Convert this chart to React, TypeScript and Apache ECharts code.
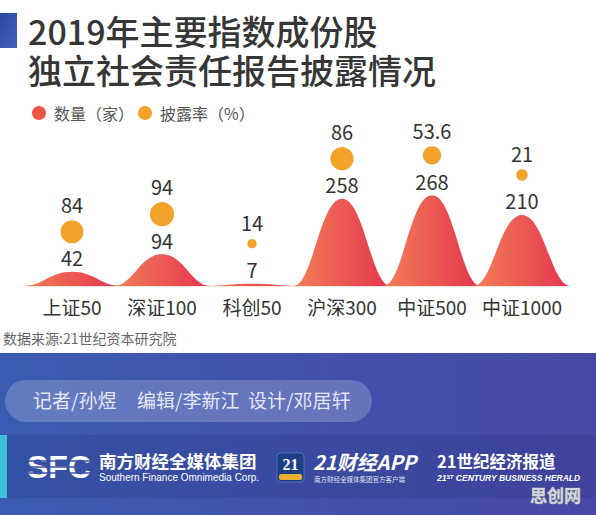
import React, { useEffect, useRef } from 'react';
import * as echarts from 'echarts';

const categories = ['上证50', '深证100', '科创50', '沪深300', '中证500', '中证1000'];
const counts = [42, 94, 7, 258, 268, 210];
const rates = [84, 94, 14, 86, 53.6, 21];
const seriesNames = ['数量（家）', '披露率（%）'];
const titleLines = ['2019年主要指数成份股', '独立社会责任报告披露情况'];
const sourceText = '数据来源:21世纪资本研究院';
const credits = ['记者/孙煜', '编辑/李新江', '设计/邓居轩'];

const FONT = '"Noto Sans CJK SC", "Noto Sans", sans-serif';

export default function App() {
  const ref = useRef<HTMLDivElement>(null);

  useEffect(() => {
    if (!ref.current) return;
    const chart = echarts.init(ref.current, null, { renderer: 'svg' });

    const mountainFill = () =>
      new echarts.graphic.LinearGradient(0, 0, 1, 0, [
        { offset: 0, color: '#f27f57' },
        { offset: 1, color: '#e5344f' },
      ]);

    const option: any = {
      animation: false,
      backgroundColor: '#ffffff',
      textStyle: { fontFamily: FONT },
      legend: {
        left: 27,
        top: 100,
        icon: 'circle',
        itemWidth: 14,
        itemHeight: 14,
        itemGap: 4,
        selectedMode: false,
        textStyle: { fontSize: 16, color: '#555', padding: [0, 0, 0, 3], fontFamily: FONT },
        data: seriesNames,
      },
      grid: { left: 27, right: 29, top: 110, bottom: 229, containLabel: false },
      xAxis: {
        type: 'category',
        data: categories,
        boundaryGap: true,
        axisTick: { show: false },
        axisLine: { show: true, lineStyle: { color: '#f6e4dc', width: 2 } },
        axisLabel: { interval: 0, fontSize: 19, color: '#333', margin: 11, fontFamily: FONT },
        splitLine: { show: false },
      },
      yAxis: { type: 'value', min: 0, max: 520, show: false },
      series: [
        {
          name: seriesNames[0],
          type: 'custom',
          itemStyle: { color: '#ee5545' },
          encode: { x: 0, y: 1 },
          data: counts.map((v, i) => [i, v]),
          renderItem: (params: any, api: any) => {
            const i = api.value(0);
            const v = api.value(1);
            const peak = api.coord([i, v]);
            const base = api.coord([i, 0]);
            const band = api.size([1, 0])[0];
            const h = band * 0.54;
            const height = Math.max(base[1] - peak[1], 1);
            return {
              type: 'group',
              children: [
                {
                  type: 'path',
                  shape: {
                    pathData: 'M0 100 C20 100 27 0 50 0 C73 0 80 100 100 100 Z',
                    x: peak[0] - h,
                    y: peak[1],
                    width: 2 * h,
                    height: height,
                    layout: 'cover',
                  },
                  style: { fill: mountainFill() },
                },
                {
                  type: 'text',
                  x: peak[0],
                  y: peak[1] - 14,
                  style: {
                    text: String(v),
                    fontSize: 20,
                    fill: '#333',
                    align: 'center',
                    verticalAlign: 'middle',
                    fontFamily: FONT,
                  },
                },
              ],
            };
          },
        },
        {
          name: seriesNames[1],
          type: 'custom',
          itemStyle: { color: '#f3a22b' },
          encode: { x: 0, y: 1 },
          data: counts.map((v, i) => [i, v, rates[i]]),
          renderItem: (params: any, api: any) => {
            const i = api.value(0);
            const v = api.value(1);
            const rate = api.value(2);
            const peak = api.coord([i, v]);
            const r = 1.25 * Math.sqrt(rate);
            const cy = peak[1] - 14 - 26;
            return {
              type: 'group',
              children: [
                {
                  type: 'circle',
                  shape: { cx: peak[0], cy: cy, r: r },
                  style: { fill: '#f3a22b' },
                },
                {
                  type: 'text',
                  x: peak[0],
                  y: cy - r - 16,
                  style: {
                    text: String(rate),
                    fontSize: 20,
                    fill: '#333',
                    align: 'center',
                    verticalAlign: 'middle',
                    fontFamily: FONT,
                  },
                },
              ],
            };
          },
        },
      ],
      graphic: [
        {
          type: 'rect',
          shape: { x: 0, y: 13, width: 17, height: 35 },
          style: {
            fill: new echarts.graphic.LinearGradient(0, 0, 1, 1, [
              { offset: 0, color: '#2b47a0' },
              { offset: 1, color: '#4262b8' },
            ]),
          },
        },
        {
          type: 'text',
          x: 28,
          y: 30,
          style: {
            text: titleLines[0],
            fontSize: 34,
            fontWeight: 500,
            fill: '#363636',
            verticalAlign: 'middle',
            fontFamily: FONT,
          },
        },
        {
          type: 'text',
          x: 28,
          y: 69,
          style: {
            text: titleLines[1],
            fontSize: 34,
            fontWeight: 500,
            fill: '#363636',
            verticalAlign: 'middle',
            fontFamily: FONT,
          },
        },
        {
          type: 'text',
          x: 3,
          y: 338,
          style: { text: sourceText, fontSize: 14, fill: '#666', verticalAlign: 'middle', fontFamily: FONT },
        },
        // bottom banner
        {
          type: 'rect',
          shape: { x: 0, y: 353, width: 596, height: 162 },
          style: {
            fill: new echarts.graphic.LinearGradient(0, 0, 1, 0, [
              { offset: 0, color: '#3a5bb1' },
              { offset: 1, color: '#4848a6' },
            ]),
          },
        },
        {
          type: 'rect',
          shape: { x: 5, y: 380, width: 367, height: 42, r: 21 },
          style: { fill: 'rgba(255,255,255,0.2)' },
        },
        {
          type: 'text',
          x: 33,
          y: 399,
          style: { text: credits[0], fontSize: 19, fill: '#e3e7f7', verticalAlign: 'middle', fontFamily: FONT },
        },
        {
          type: 'text',
          x: 137,
          y: 399,
          style: { text: credits[1], fontSize: 19, fill: '#e3e7f7', verticalAlign: 'middle', fontFamily: FONT },
        },
        {
          type: 'text',
          x: 248,
          y: 399,
          style: { text: credits[2], fontSize: 19, fill: '#e3e7f7', verticalAlign: 'middle', fontFamily: FONT },
        },
        {
          type: 'rect',
          shape: { x: 0, y: 435, width: 596, height: 63 },
          style: { fill: 'rgba(25,35,105,0.16)' },
        },
        {
          type: 'rect',
          shape: { x: 0, y: 435, width: 7, height: 63 },
          style: { fill: '#3fc0d6' },
        },
        {
          type: 'text',
          x: 27,
          y: 467,
          style: {
            text: 'SFC',
            fontSize: 32,
            fontWeight: 'bold',
            fill: '#ffffff',
            verticalAlign: 'middle',
            fontFamily: '"Liberation Sans", Arial, sans-serif',
          },
        },
        {
          type: 'line',
          shape: { x1: 26, y1: 461, x2: 94, y2: 461 },
          style: { stroke: '#3a4ea4', lineWidth: 1.4 },
        },
        {
          type: 'line',
          shape: { x1: 26, y1: 467, x2: 94, y2: 467 },
          style: { stroke: '#3a4ea4', lineWidth: 1.4 },
        },
        {
          type: 'line',
          shape: { x1: 26, y1: 473, x2: 94, y2: 473 },
          style: { stroke: '#3a4ea4', lineWidth: 1.4 },
        },
        {
          type: 'text',
          x: 99,
          y: 460,
          style: {
            text: '南方财经全媒体集团',
            fontSize: 17.5,
            fontWeight: 'bold',
            fill: '#ffffff',
            verticalAlign: 'middle',
            fontFamily: FONT,
          },
        },
        {
          type: 'text',
          x: 99,
          y: 477,
          style: {
            text: 'Southern Finance Omnimedia Corp.',
            fontSize: 10,
            fill: '#ffffff',
            verticalAlign: 'middle',
            fontFamily: '"Liberation Sans", Arial, sans-serif',
          },
        },
        {
          type: 'rect',
          shape: { x: 277, y: 453, width: 27, height: 29, r: 4 },
          style: { fill: '#1d3f86', stroke: '#5d78c0', lineWidth: 0.8 },
        },
        {
          type: 'rect',
          shape: { x: 279, y: 474, width: 23, height: 6, r: 2 },
          style: { fill: '#e8b230' },
        },
        {
          type: 'text',
          x: 290.5,
          y: 464,
          style: {
            text: '21',
            fontSize: 16,
            fontWeight: 'bold',
            fill: '#ffffff',
            align: 'center',
            verticalAlign: 'middle',
            fontFamily: '"Liberation Serif", "DejaVu Serif", serif',
          },
        },
        {
          type: 'text',
          x: 313,
          y: 461,
          style: {
            text: '21财经APP',
            fontSize: 20,
            fontWeight: 'bold',
            fontStyle: 'italic',
            fill: '#ffffff',
            verticalAlign: 'middle',
            fontFamily: FONT,
          },
        },
        {
          type: 'text',
          x: 314,
          y: 479,
          style: {
            text: '南方财经全媒体集团官方客户端',
            fontSize: 6.5,
            fill: 'rgba(255,255,255,0.85)',
            verticalAlign: 'middle',
            fontFamily: FONT,
          },
        },
        {
          type: 'text',
          x: 437,
          y: 461,
          style: {
            text: '21世纪经济报道',
            fontSize: 16.5,
            fontWeight: 'bold',
            fill: '#ffffff',
            verticalAlign: 'middle',
            fontFamily: FONT,
          },
        },
        {
          type: 'text',
          x: 437,
          y: 478,
          style: {
            text: '{a|21}{s|ST}{a| CENTURY BUSINESS HERALD}',
            verticalAlign: 'middle',
            rich: {
              a: {
                fontSize: 8.5,
                fontWeight: 'bold',
                fontStyle: 'italic',
                fill: '#ffffff',
                color: '#ffffff',
                fontFamily: '"Liberation Sans Narrow", "Liberation Sans", sans-serif',
              },
              s: {
                fontSize: 5.5,
                fontWeight: 'bold',
                fontStyle: 'italic',
                fill: '#ffffff',
                color: '#ffffff',
                verticalAlign: 'top',
                fontFamily: '"Liberation Sans Narrow", "Liberation Sans", sans-serif',
              },
            },
          },
        },
        {
          type: 'text',
          x: 530,
          y: 494,
          style: {
            text: '思创网',
            fontSize: 17,
            fontWeight: 'bold',
            fill: '#d3d6da',
            stroke: '#8a8e95',
            lineWidth: 0.8,
            verticalAlign: 'middle',
            fontFamily: FONT,
          },
        },
      ],
    };

    chart.setOption(option);
    return () => chart.dispose();
  }, []);

  return (
    <div
      ref={ref}
      style={{ position: 'absolute', left: 0, top: 0, width: 596, height: 515 }}
    />
  );
}
